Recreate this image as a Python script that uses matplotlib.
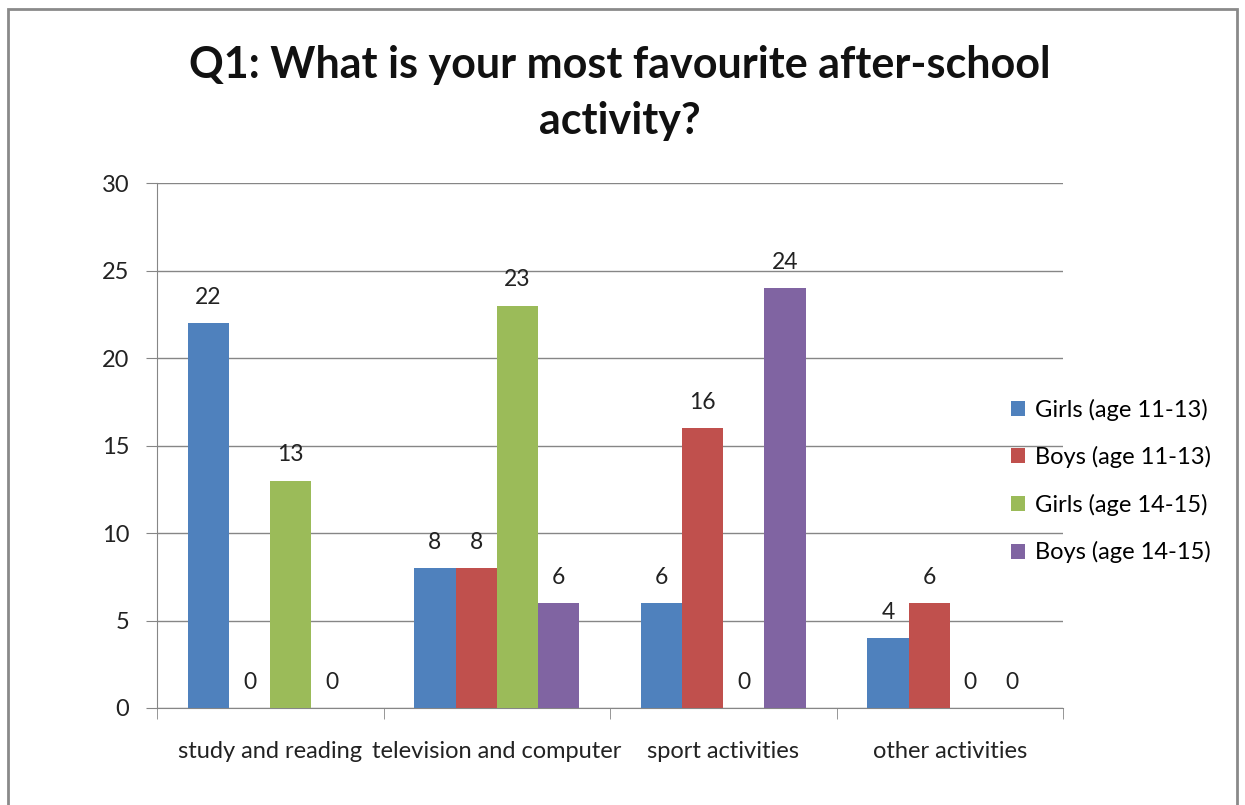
import matplotlib
matplotlib.use('Agg')
import matplotlib.pyplot as plt
from matplotlib.patches import Rectangle
import numpy as np

categories = ['study and reading', 'television and computer', 'sport activities', 'other activities']
series_names = ['Girls (age 11-13)', 'Boys (age 11-13)', 'Girls (age 14-15)', 'Boys (age 14-15)']
girls_11_13 = [22, 8, 6, 4]
boys_11_13 = [0, 8, 16, 6]
girls_14_15 = [13, 23, 0, 0]
boys_14_15 = [0, 6, 24, 0]
colors = ['#4F81BD', '#C0504D', '#9BBB59', '#8064A2']
y_ticks = [0, 5, 10, 15, 20, 25, 30]

plt.rcParams['font.family'] = ['Lato', 'DejaVu Sans']
grey = '#868686'


def main():
    fig = plt.figure(figsize=(12.45, 8.05), dpi=100)

    # outer chart frame
    fig.patches.append(Rectangle((8 / 1245, -0.01), 1229 / 1245, 1 - 9 / 805 + 0.01,
                                 transform=fig.transFigure, fill=False,
                                 edgecolor='#8a8a8a', linewidth=2))

    ax = fig.add_axes([157 / 1245, 1 - 708 / 805, 906 / 1245, 525 / 805])

    data = [girls_11_13, boys_11_13, girls_14_15, boys_14_15]
    width = 1 / 5.5
    x = np.arange(len(categories)) + 0.5
    for i, (vals, name, c) in enumerate(zip(data, series_names, colors)):
        pos = x + (i - 1.5) * width
        bars = ax.bar(pos, vals, width=width, color=c, label=name, zorder=3)
        for b, v in zip(bars, vals):
            ax.annotate(str(v), (b.get_x() + b.get_width() / 2, v),
                        xytext=(0, 11), textcoords='offset points',
                        ha='center', va='bottom', fontsize=16.5, color='#222222')

    ax.set_xlim(0, 4)
    ax.set_ylim(0, 30)
    ax.set_yticks(y_ticks)
    ax.yaxis.grid(True, color=grey, linewidth=1)
    ax.set_axisbelow(True)

    ax.set_xticks(x)
    ax.set_xticklabels(categories, fontsize=17, color='#222222')
    ax.set_xticks(np.arange(5), minor=True)
    ax.tick_params(axis='x', which='major', length=0, pad=24)
    ax.tick_params(axis='x', which='minor', length=8, color=grey, direction='out')
    ax.tick_params(axis='y', length=8, color=grey, labelsize=17, labelcolor='#222222', pad=12)

    for s in ['top', 'right']:
        ax.spines[s].set_visible(False)
    for s in ['left', 'bottom']:
        ax.spines[s].set_color(grey)

    fig.text(0.498, 1 - 93 / 805, 'Q1: What is your most favourite after-school\nactivity?',
             ha='center', va='center', fontsize=31, fontweight='bold',
             linespacing=1.5, color='#111111')

    fig.legend(loc='center left', bbox_to_anchor=(1011 / 1245, 1 - 481 / 805),
               frameon=False, fontsize=17, handlelength=0.6, handleheight=0.6,
               handletextpad=0.4, labelspacing=1.08, borderaxespad=0, borderpad=0)

    fig.savefig('out.png', dpi=100)


if __name__ == '__main__':
    main()
